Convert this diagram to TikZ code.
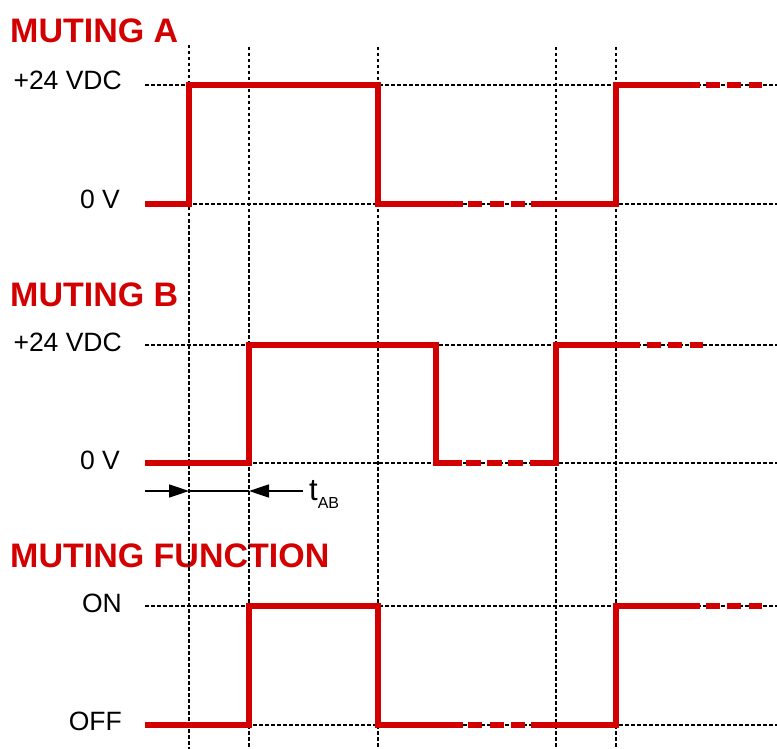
\documentclass[tikz,border=0pt]{standalone}
\usepackage{fontspec}
\setmainfont{Liberation Sans}
\usetikzlibrary{arrows.meta}
\definecolor{sigred}{RGB}{210,0,0}
\tikzset{
  grid/.style={black, line width=1.6pt, dash pattern=on 3.5pt off 2.5pt},
  wave/.style={sigred, line width=6.5pt, line join=miter},
  wavedash/.style={sigred, line width=6.5pt},
  title/.style={anchor=base west, inner sep=0pt, text=sigred, font=\fontsize{34}{34}\selectfont\bfseries},
  lvl/.style={anchor=base east, inner sep=0pt, font=\fontsize{26.5}{26.5}\selectfont},
  dimarrow/.style={black, line width=1.6pt, -{Triangle[length=20pt,width=13pt]}}
}
\begin{document}
\begin{tikzpicture}[x=1pt,y=-1pt]
\useasboundingbox (0,0) rectangle (777,749);
% titles
\node[title] (tA) at (10,43) {MUTING A};
\node[title] (tB) at (10,306) {MUTING B};
\node[title] (tF) at (10,567) {MUTING FUNCTION};
% level labels
\node[lvl] (a1) at (122,90) {+24 VDC};
\node[lvl] (a0) at (120,208) {0 V};
\node[lvl] (b1) at (122,351) {+24 VDC};
\node[lvl] (b0) at (120,469) {0 V};
\node[lvl] (f1) at (122,612) {ON};
\node[lvl] (f0) at (122,730) {OFF};
% vertical grid
\foreach \x/\t in {189/45,249/47,378/47,556/47,616/47}
  \draw[grid] (\x,\t) -- (\x,749);
% horizontal grid
\foreach \y in {85,204,345,463,606,725}
  \draw[grid] (145,\y) -- (777,\y);
% Muting A
\draw[wave] (145,204) -- (189,204) -- (189,85) -- (378,85) -- (378,204) -- (463,204);
\draw[wavedash, dash pattern=on 14pt off 7.5pt] (468,204) -- (525,204);
\draw[wave] (531,204) -- (616,204) -- (616,85) -- (700,85);
\draw[wavedash, dash pattern=on 13.5pt off 7.75pt] (706,85) -- (762,85);
% Muting B
\draw[wave] (145,463) -- (249,463) -- (249,345) -- (436,345) -- (436,463) -- (462,463);
\draw[wavedash, dash pattern=on 15pt off 6pt] (466,463) -- (523,463);
\draw[wave] (530,463) -- (556,463) -- (556,345) -- (640,345);
\draw[wavedash, dash pattern=on 13.5pt off 7.75pt] (647,345) -- (703,345);
% Muting function
\draw[wave] (145,725) -- (249,725) -- (249,606) -- (378,606) -- (378,725) -- (463,725);
\draw[wavedash, dash pattern=on 14pt off 7.5pt] (468,725) -- (525,725);
\draw[wave] (531,725) -- (616,725) -- (616,606) -- (700,606);
\draw[wavedash, dash pattern=on 13.5pt off 7.75pt] (706,606) -- (762,606);
% t_AB dimension
\coordinate (dl) at (145,491);
\coordinate (da) at (189,491);
\coordinate (db) at (249,491);
\coordinate (dr) at (303,491);
\draw[black, line width=1.6pt] (da) -- (db);
\draw[dimarrow] (dl) -- (da);
\draw[dimarrow] (dr) -- (db);
\node[anchor=base west, inner sep=0pt, font=\fontsize{31}{31}\selectfont] (tab) at (309,500)
  {t\raisebox{-8pt}{\fontsize{16}{16}\selectfont AB}};
\end{tikzpicture}
\end{document}
